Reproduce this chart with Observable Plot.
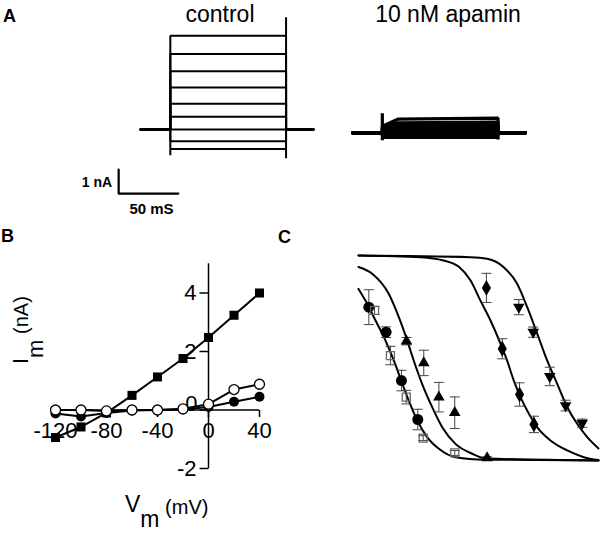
<!DOCTYPE html>
<html><head><meta charset="utf-8">
<script src="https://cdn.jsdelivr.net/npm/d3@7"></script>
<script src="https://cdn.jsdelivr.net/npm/@observablehq/plot@0.6"></script>
<style>
body{margin:0;background:#fff}
#fig{position:relative;width:600px;height:544px;background:#fff;overflow:hidden}
#fig svg{position:absolute}
</style>
</head><body><div id="fig"></div>
<script>
// ---------- Panel A : current traces ----------
const conditions = ["control", "10 nM apamin"];
const stepVm = [-120, -100, -80, -60, -40, -20, 0, 20, 40];
const sweepTimes = [0, 25, 38, 122, 145];           // ms: start, pulse on, early, pulse off, end
const controlHold = 0;
const controlLevel   = [-0.81, -0.49, 0, 0.53, 1.07, 1.75, 2.43, 3.15, 3.91];
const controlOnPeak  = [-1.07, -0.49, 0, 0.53, 1.07, 1.75, 2.43, 3.15, 3.91];
const controlOffPeak = [-1.20, -0.49, 0, 0.53, 1.07, 1.75, 2.43, 3.15, 4.68];
const apaminHold = -0.14;
const apaminOnset   = [-0.33, -0.26, -0.19, -0.12, -0.05, 0.02, 0.08, 0.12, 0.14];
const apaminEarly   = [-0.33, -0.25, -0.18, -0.10, -0.02, 0.06, 0.16, 0.28, 0.43];
const apaminLevel   = [-0.32, -0.24, -0.17, -0.09, -0.01, 0.07, 0.18, 0.31, 0.47];
const apaminOnPeak  = [-0.45, -0.26, -0.19, -0.12, -0.05, 0.02, 0.08, 0.12, 0.68];
const apaminOffPeak = [-0.42, -0.24, -0.17, -0.09, -0.01, 0.07, 0.18, 0.31, 0.47];
const scaleBarNA = 1, scaleBarMS = 50;

// ---------- Panel B : I-V ----------
const vmB = [-120, -100, -80, -60, -40, -20, 0, 20, 40];
const imControl = [-0.94, -0.58, -0.10, 0.50, 1.13, 1.76, 2.48, 3.24, 4.00];
const imOpen    = [0, 0, -0.03, 0, 0, 0.04, 0.20, 0.70, 0.88];
const imFilled  = [-0.12, -0.22, -0.10, -0.02, 0, 0.02, 0.10, 0.28, 0.45];
const xTicksB = [-120, -80, -40, 0, 40];
const yTicksB = [-2, 0, 2, 4];

// ---------- Panel C : dose-response ----------
const curve1X = [0, 2.9, 7.1, 11.25, 14.7, 17.5, 20.9, 24.5, 28.6, 33.5, 40.4, 52.9, 100];
const curve1Y = [0.837, 0.78, 0.683, 0.585, 0.488, 0.399, 0.293, 0.195, 0.114, 0.057, 0.016, 0.004, 0];
const curve2X = [0, 5.7, 12.6, 16.8, 20.3, 23.0, 26.5, 30.7, 34.9, 40.4, 47.4, 52.9, 100];
const curve2Y = [0.944, 0.911, 0.813, 0.699, 0.585, 0.488, 0.374, 0.26, 0.162, 0.081, 0.033, 0.01, 0];
const curve3X = [0, 25.8, 35.4, 41.7, 46.7, 50.8, 55.0, 59.2, 61.9, 64.7, 67.5, 71.0, 74.5, 80, 87, 93.9, 100];
const curve3Y = [1, 0.992, 0.976, 0.946, 0.878, 0.78, 0.683, 0.569, 0.488, 0.39, 0.309, 0.228, 0.162, 0.098, 0.049, 0.016, 0.002];
const curve4X = [0, 46.7, 53.6, 60.5, 66.1, 70.3, 74.5, 78.6, 82.8, 87.0, 91.1, 95.3, 100];
const curve4Y = [1, 0.992, 0.984, 0.943, 0.862, 0.748, 0.618, 0.488, 0.374, 0.26, 0.179, 0.114, 0.059];

const circX = [4.3, 11.5, 17.9, 24.7];
const circY = [0.748, 0.626, 0.39, 0.2];
const circE = [0.085, 0.026, 0.05, 0.05];
const sqX = [6.7, 13.3, 19.9, 26.95, 40.1];
const sqY = [0.732, 0.512, 0.309, 0.109, 0.037];
const sqE = [0.02, 0.045, 0.033, 0.012, 0.012];
const triX = [20, 27.2, 33.5, 40.1, 53.6];
const triY = [0.582, 0.476, 0.309, 0.233, 0.013];
const triE = [0.018, 0.062, 0.072, 0.077, 0.005];
const diaX = [53.3, 59.9, 67.1, 73.1];
const diaY = [0.842, 0.545, 0.322, 0.176];
const diaE = [0.071, 0.049, 0.057, 0.04];
const invX = [66.8, 72.8, 79.7, 86.3, 93.2];
const invY = [0.748, 0.626, 0.41, 0.268, 0.182];
const invE = [0.037, 0.025, 0.045, 0.026, 0.02];

// ---------- helpers ----------
const FONT = "'Liberation Sans', Arial, Helvetica, sans-serif";
const baseStyle = {fontFamily: FONT, fontSize: "12px", overflow: "visible", background: "transparent", color: "black"};
const rOf = size => Math.sqrt(size / Math.PI);
const capSymbol = {draw(ctx, size) { const r = rOf(size); ctx.moveTo(-r, 0); ctx.lineTo(r, 0); }};
const tickLeft = {draw(ctx, size) { const r = rOf(size); ctx.moveTo(-r, 0); ctx.lineTo(0, 0); }};
const tickDown = {draw(ctx, size) { const r = rOf(size); ctx.moveTo(0, 0); ctx.lineTo(0, r); }};
const fig = document.getElementById("fig");

function sweep(cond, i, hold, onPeak, onset, early, level, offPeak) {
  const [t0, tOn, tEarly, tOff, tEnd] = sweepTimes;
  const pts = [[t0, hold], [tOn, hold], [tOn, onPeak], [tOn, onset]];
  if (early != null) pts.push([tEarly, early]);
  pts.push([tOff, level], [tOff, offPeak], [tOff, hold], [tEnd, hold]);
  return pts.map(([t, I]) => ({cond, sweep: cond + i, t, I}));
}
const controlRows = [], apaminRows = [];
stepVm.forEach((v, i) => {
  controlRows.push(...sweep(conditions[0], i, controlHold, controlOnPeak[i], controlLevel[i], null, controlLevel[i], controlOffPeak[i]));
  apaminRows.push(...sweep(conditions[1], i, apaminHold, apaminOnPeak[i], apaminOnset[i], apaminEarly[i], apaminLevel[i], apaminOffPeak[i]));
});

// scale bar anchor (ms, nA) in control facet
const barT0 = -18.3, barI0 = -2.67;
const barPts = [[barT0, barI0 + scaleBarNA], [barT0, barI0], [barT0 + scaleBarMS, barI0]];

const plotA = Plot.plot({
  width: 600, height: 230,
  marginLeft: 139, marginRight: 74, marginTop: 9, marginBottom: 5,
  style: baseStyle,
  fx: {domain: conditions, paddingInner: 0.183, paddingOuter: 0, axis: null, label: null},
  x: {domain: [0, 145], axis: null},
  y: {domain: [-4, 5], axis: null},
  marks: [
    Plot.line(controlRows, {x: "t", y: "I", z: "sweep", fx: "cond", stroke: "black", strokeWidth: 2, strokeLinejoin: "miter"}),
    Plot.line(apaminRows, {x: "t", y: "I", z: "sweep", fx: "cond", stroke: "black", strokeWidth: 3.2, strokeLinejoin: "miter"}),
    Plot.text([conditions[0]], {fx: d => d, text: d => d, frameAnchor: "top", lineAnchor: "top", dy: -4, dx: -7, fontSize: 23}),
    Plot.text([conditions[1]], {fx: d => d, text: d => d, frameAnchor: "top", lineAnchor: "top", dy: -4, dx: 9, fontSize: 23}),
    Plot.line(barPts, {x: d => d[0], y: d => d[1], fx: () => conditions[0], stroke: "black", strokeWidth: 2.2}),
    Plot.text([`${scaleBarNA} nA`], {x: () => barT0 - 5.5, y: () => barI0 + 0.46, fx: () => conditions[0], text: d => d, textAnchor: "end", fontSize: 14, fontWeight: "bold"}),
    Plot.text([`${scaleBarMS} mS`], {x: () => barT0 + 27.5, y: () => barI0 - 0.66, fx: () => conditions[0], text: d => d, fontSize: 15, fontWeight: "bold"})
  ]
});
plotA.style.left = "0px"; plotA.style.top = "0px";
fig.appendChild(plotA);

// ---------- Plot B ----------
const ivRows = (ys) => vmB.map((v, i) => ({v, i: ys[i]}));
const rowsControl = ivRows(imControl), rowsOpen = ivRows(imOpen), rowsFilled = ivRows(imFilled);
const plotB = Plot.plot({
  width: 300, height: 314,
  marginLeft: 55, marginRight: 41, marginTop: 33.25, marginBottom: 76,
  style: baseStyle,
  x: {domain: [-120, 40], axis: null},
  y: {domain: [-2, 5], axis: null},
  marks: [
    Plot.ruleY([0], {x1: -120, x2: 40, stroke: "black", strokeWidth: 1.5}),
    Plot.ruleX([0], {y1: -2, y2: 5, stroke: "black", strokeWidth: 1.5}),
    Plot.dot(yTicksB, {x: () => 0, y: d => d, symbol: tickLeft, r: 9, stroke: "black", fill: "none", strokeWidth: 1.5}),
    Plot.dot(xTicksB, {x: d => d, y: () => 0, symbol: tickDown, r: 7, stroke: "black", fill: "none", strokeWidth: 1.5}),
    Plot.line(rowsFilled, {x: "v", y: "i", stroke: "black", strokeWidth: 2}),
    Plot.line(rowsOpen, {x: "v", y: "i", stroke: "black", strokeWidth: 2}),
    Plot.line(rowsControl, {x: "v", y: "i", stroke: "black", strokeWidth: 2}),
    Plot.text(xTicksB, {x: d => d, y: () => 0, text: d => String(d), dy: 21, fontSize: 22}),
    Plot.text(yTicksB.filter(d => d !== 0), {x: () => 0, y: d => d, text: d => String(d), dx: -12, textAnchor: "end", fontSize: 22}),
    Plot.text(yTicksB.filter(d => d === 0), {x: () => 0, y: d => d, text: d => String(d), dx: -11, dy: -6, textAnchor: "end", fontSize: 22}),
    Plot.dot(rowsControl, {x: "v", y: "i", symbol: "square", r: 5.1, fill: "black"}),
    Plot.dot(rowsFilled, {x: "v", y: "i", symbol: "circle", r: 5, fill: "black"}),
    Plot.dot(rowsOpen, {x: "v", y: "i", symbol: "circle", r: 5, fill: "white", stroke: "black", strokeWidth: 1.3})
  ]
});
plotB.style.left = "0px"; plotB.style.top = "230px";
fig.appendChild(plotB);

// ---------- Plot C ----------
const curveRows = [];
[[curve1X, curve1Y], [curve2X, curve2Y], [curve3X, curve3Y], [curve4X, curve4Y]].forEach(([xs, ys], k) => {
  xs.forEach((x, j) => curveRows.push({s: k, x, y: ys[j]}));
});
const pts = (xs, ys, es) => xs.map((x, j) => ({x, y: ys[j], e: es[j]}));
const series = [
  {rows: pts(circX, circY, circE), opts: {symbol: "circle", r: 5.5, fill: "black"}},
  {rows: pts(sqX, sqY, sqE), opts: {symbol: "square", r: 4.5, fill: "none", stroke: "#666", strokeWidth: 1.3}},
  {rows: pts(triX, triY, triE), opts: {symbol: "triangle", r: 4.3, fill: "black"}},
  {rows: pts(diaX, diaY, diaE), opts: {symbol: "diamond", r: 4.8, fill: "black"}},
  {rows: pts(invX, invY, invE), opts: {symbol: "triangle", rotate: 180, r: 4.3, fill: "black"}}
];
const errMarks = [];
const dotMarks = [];
series.forEach(({rows, opts}) => {
  errMarks.push(Plot.ruleX(rows, {x: "x", y1: d => d.y - d.e, y2: d => d.y + d.e, stroke: "#444", strokeWidth: 1}));
  errMarks.push(Plot.dot(rows, {x: "x", y: d => d.y - d.e, symbol: capSymbol, r: 5, stroke: "#444", fill: "none", strokeWidth: 1}));
  errMarks.push(Plot.dot(rows, {x: "x", y: d => d.y + d.e, symbol: capSymbol, r: 5, stroke: "#444", fill: "none", strokeWidth: 1}));
  dotMarks.push(Plot.dot(rows, {x: "x", y: "y", ...opts}));
});
const plotC = Plot.plot({
  width: 300, height: 314,
  marginLeft: 58, marginRight: 2, marginTop: 25, marginBottom: 84,
  style: baseStyle,
  x: {domain: [0, 100], axis: null},
  y: {domain: [0, 1], axis: null},
  marks: [
    Plot.line(curveRows, {x: "x", y: "y", z: "s", curve: "monotone-x", stroke: "black", strokeWidth: 2}),
    ...errMarks,
    ...dotMarks
  ]
});
plotC.style.left = "300px"; plotC.style.top = "230px";
fig.appendChild(plotC);

// ---------- text overlays (panel letters, axis titles) ----------
function letter(svg, x, y, s) {
  d3.select(svg).append("text").attr("x", x).attr("y", y).attr("font-family", FONT)
    .attr("text-anchor", "start").attr("font-size", 18).attr("font-weight", "bold").attr("fill", "black").text(s);
}
letter(plotA, 3, 22, "A");
letter(plotB, 1, 12, "B");
letter(plotB, 278, 13, "C");

const yl = d3.select(plotB).append("text").attr("transform", "translate(28,134) rotate(-90)")
  .attr("text-anchor", "start").attr("font-family", FONT).attr("font-size", 22).attr("fill", "black").style("white-space", "pre");
yl.append("tspan").text("I");
yl.append("tspan").attr("dy", 15).text("m");
yl.append("tspan").attr("dy", -15).attr("font-size", 20).text(" (nA)");

const xl = d3.select(plotB).append("text").attr("x", 125).attr("y", 282)
  .attr("text-anchor", "start").attr("font-family", FONT).attr("font-size", 23).attr("fill", "black").style("white-space", "pre");
xl.append("tspan").text("V");
xl.append("tspan").attr("dy", 15).text("m");
xl.append("tspan").attr("dy", -13).attr("font-size", 20).text(" (mV)");
</script></body></html>
